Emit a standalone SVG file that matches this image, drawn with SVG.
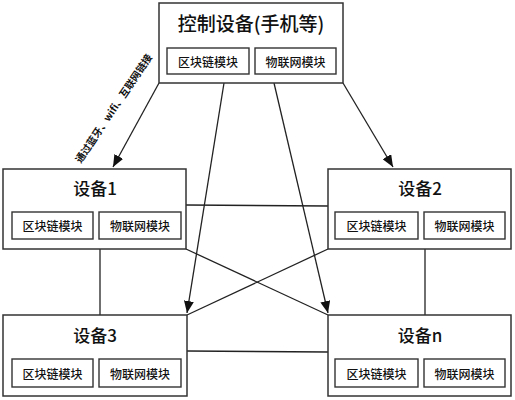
<svg xmlns="http://www.w3.org/2000/svg" width="515" height="400" viewBox="0 0 515 400">
<defs>
<style>
.box{fill:#fff;stroke:#333;stroke-width:1.5}
.mod{fill:#fff;stroke:#333;stroke-width:1.4}
.ln{stroke:#222;stroke-width:1.3;fill:none}
.t{font-family:"Noto Sans CJK SC","Noto Sans",sans-serif;fill:#111;text-anchor:middle;dominant-baseline:central;font-weight:500}
.title{font-size:17px}
.m{font-size:12px}
</style>
<marker id="ah" viewBox="0 0 12 10" refX="12" refY="5" markerWidth="12" markerHeight="10" markerUnits="userSpaceOnUse" orient="auto">
<path d="M0,0 L12,5 L0,10 Z" fill="#111"/>
</marker>
</defs>
<rect width="515" height="400" fill="#fff"/>
<g id="connectors">
<line class="ln" x1="159" y1="83" x2="113" y2="167" marker-end="url(#ah)"/>
<line class="ln" x1="343" y1="83" x2="393" y2="167" marker-end="url(#ah)"/>
<line class="ln" x1="224" y1="83" x2="187" y2="313" marker-end="url(#ah)"/>
<line class="ln" x1="274" y1="83" x2="328" y2="313" marker-end="url(#ah)"/>
<line class="ln" x1="186" y1="205" x2="328" y2="206"/>
<line class="ln" x1="186" y1="249" x2="328" y2="315"/>
<line class="ln" x1="187" y1="315" x2="328" y2="249"/>
<line class="ln" x1="100" y1="249" x2="100" y2="315"/>
<line class="ln" x1="425" y1="249" x2="425" y2="315"/>
<line class="ln" x1="187" y1="351" x2="328" y2="352"/>
<text class="t" style="font-size:10px;font-weight:700" transform="translate(113,108) rotate(-56)">通过蓝牙、wifi、互联网链接</text>
</g>
<g id="control">
<rect class="box" x="159" y="3" width="184" height="80"/>
<text class="t" style="font-size:19px" x="251" y="22">控制设备(手机等)</text>
<rect class="mod" x="167" y="48" width="82" height="26"/>
<text class="t m" x="208" y="61">区块链模块</text>
<rect class="mod" x="255" y="48" width="81" height="26"/>
<text class="t m" x="295.5" y="61">物联网模块</text>
</g>
<g id="device1">
<rect class="box" x="3" y="169" width="183" height="80"/>
<text class="t title" x="95" y="187">设备1</text>
<rect class="mod" x="12" y="212" width="81" height="27"/>
<text class="t m" x="52.5" y="225.5">区块链模块</text>
<rect class="mod" x="99" y="212" width="82" height="27"/>
<text class="t m" x="140" y="225.5">物联网模块</text>
</g>
<g id="device2">
<rect class="box" x="328" y="169" width="183" height="80"/>
<text class="t title" x="420" y="187">设备2</text>
<rect class="mod" x="335" y="212" width="83" height="27"/>
<text class="t m" x="376.5" y="225.5">区块链模块</text>
<rect class="mod" x="424" y="212" width="81" height="27"/>
<text class="t m" x="464.5" y="225.5">物联网模块</text>
</g>
<g id="device3">
<rect class="box" x="3" y="315" width="184" height="81"/>
<text class="t title" x="95" y="334">设备3</text>
<rect class="mod" x="12" y="359" width="81" height="28"/>
<text class="t m" x="52.5" y="373">区块链模块</text>
<rect class="mod" x="99" y="359" width="82" height="28"/>
<text class="t m" x="140" y="373">物联网模块</text>
</g>
<g id="devicen">
<rect class="box" x="328" y="315" width="183" height="81"/>
<text class="t title" x="420" y="334">设备n</text>
<rect class="mod" x="335" y="359" width="83" height="28"/>
<text class="t m" x="376.5" y="373">区块链模块</text>
<rect class="mod" x="424" y="359" width="81" height="28"/>
<text class="t m" x="464.5" y="373">物联网模块</text>
</g>
</svg>
